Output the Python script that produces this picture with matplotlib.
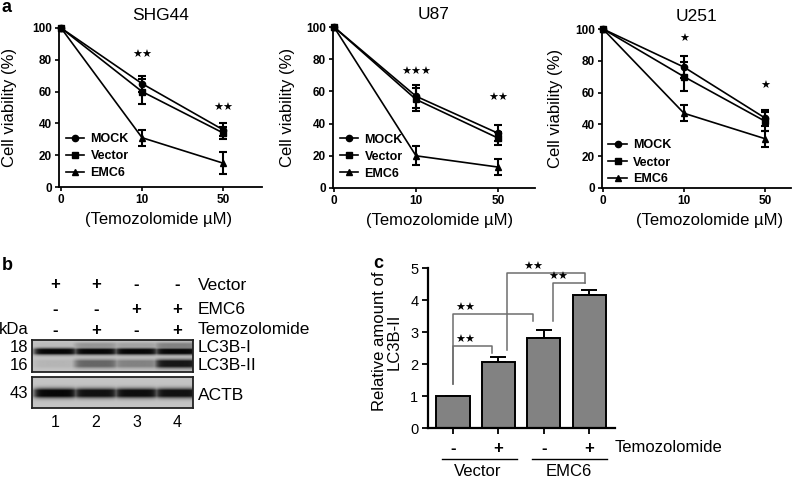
import numpy as np
import matplotlib
matplotlib.use("Agg")
import matplotlib.pyplot as plt

plt.rcParams["font.family"] = ["Liberation Sans", "DejaVu Sans"]

W, H = 792, 478

# ---------------- panel a: cell viability ----------------
doses = ["0", "10", "50"]
series_names = ["MOCK", "Vector", "EMC6"]
series_markers = ["o", "s", "^"]

shg44_mock = [100, 65, 36]
shg44_vector = [100, 60, 34]
shg44_emc6 = [100, 31, 15]
shg44_mock_err = [0, 5, 4]
shg44_vector_err = [0, 8, 4]
shg44_emc6_err = [0, 5, 7]
shg44_stars = [0, 2, 2]
shg44_star_y = [0, 83, 50]

u87_mock = [100, 57, 34]
u87_vector = [100, 55, 31]
u87_emc6 = [100, 20, 13]
u87_mock_err = [0, 7, 5]
u87_vector_err = [0, 7, 4]
u87_emc6_err = [0, 6, 5]
u87_stars = [0, 3, 2]
u87_star_y = [0, 72, 56]

u251_mock = [100, 76, 44]
u251_vector = [100, 70, 42]
u251_emc6 = [100, 47, 31]
u251_mock_err = [0, 7, 5]
u251_vector_err = [0, 9, 6]
u251_emc6_err = [0, 5, 5]
u251_stars = [0, 1, 1]
u251_star_y = [0, 94, 64]

# ---------------- panel b: western blot ----------------
blot_lanes = ["1", "2", "3", "4"]
vector_signs = ["+", "+", "-", "-"]
emc6_signs = ["-", "-", "+", "+"]
tmz_signs = ["-", "+", "-", "+"]
lc3b1_band = [1.0, 1.0, 1.0, 1.0]
lc3b_upper_band = [0.05, 0.25, 0.18, 0.35]
lc3b2_band = [0.08, 0.50, 0.35, 0.92]
actb_band = [1.0, 0.95, 0.97, 0.95]

# ---------------- panel c: LC3B-II quantification ----------------
c_groups = ["Vector", "EMC6"]
c_tmz = ["-", "+", "-", "+"]
lc3_vals = [1.0, 2.05, 2.8, 4.15]
lc3_err = [0.0, 0.17, 0.25, 0.15]
# (left x, right x, top y, left foot y, right foot y, star x)
c_brackets = [
    (0.0, 0.85, 2.56, 1.37, 2.33, 0.27),
    (0.0, 1.76, 3.56, 1.37, 3.34, 0.27),
    (1.20, 2.91, 4.84, 2.44, 4.53, 1.77),
    (2.20, 2.91, 4.53, 3.34, 4.53, 2.32),
]

STAR = "\u2605"


def px_axes(fig, x0, y0, x1, y1):
    return fig.add_axes([x0 / W, 1 - y1 / H, (x1 - x0) / W, (y1 - y0) / H])


def ftext(fig, x, y, s, **kw):
    fig.text(x / W, 1 - y / H, s, **kw)


fig = plt.figure(figsize=(W / 100, H / 100), dpi=100)


def line_panel(box, xlim, title, vals, errs, stars, star_y, leg_y, ylab_x, xlab_x):
    ax = px_axes(fig, *box)
    x = np.arange(len(doses))
    handles = []
    for name, m, v, e in zip(series_names, series_markers, vals, errs):
        (h,) = ax.plot(x, v, marker=m, ms=4.5, color="black", lw=1.2, label=name,
                       clip_on=False, zorder=3)
        ax.errorbar(x[1:], v[1:], yerr=e[1:], fmt="none", ecolor="black",
                    elinewidth=1.5, capsize=3.2, capthick=1.5, zorder=3)
        handles.append(h)
    for xi, n, sy in zip(x, stars, star_y):
        if n:
            ax.text(xi, sy, STAR * n, ha="center", va="center", fontsize=8,
                    family="DejaVu Sans")
    ax.set_xlim(*xlim)
    ax.set_ylim(0, 100)
    ax.set_xticks(x, doses)
    ax.set_yticks(range(0, 101, 20))
    for lab in ax.get_xticklabels() + ax.get_yticklabels():
        lab.set_fontweight("bold")
    ax.tick_params(direction="out", length=3, width=1.2, labelsize=8.5, pad=2)
    for sp in ("top", "right"):
        ax.spines[sp].set_visible(False)
    for sp in ("left", "bottom"):
        ax.spines[sp].set_linewidth(1.3)
    ax.set_title(title, fontsize=12.5, pad=6)
    ax.set_ylabel("Cell viability (%)", fontsize=12)
    ax.yaxis.set_label_coords(ylab_x, 0.5)
    ax.set_xlabel("(Temozolomide \u00b5M)", fontsize=12)
    ax.xaxis.set_label_coords(xlab_x, -0.155)
    leg = ax.legend(handles=handles, loc="lower left", bbox_to_anchor=(0.02, leg_y),
                    frameon=False, fontsize=9, handlelength=1.5, handletextpad=0.5,
                    labelspacing=0.4, borderpad=0.2, borderaxespad=0)
    for t in leg.get_texts():
        t.set_fontweight("bold")
    return ax


line_panel((59, 28, 262, 187), (-0.025, 2.48), "SHG44",
           [shg44_mock, shg44_vector, shg44_emc6],
           [shg44_mock_err, shg44_vector_err, shg44_emc6_err],
           shg44_stars, shg44_star_y, 0.035, -0.205, 0.49)
line_panel((333, 27, 535, 188), (-0.012, 2.45), "U87",
           [u87_mock, u87_vector, u87_emc6],
           [u87_mock_err, u87_vector_err, u87_emc6_err],
           u87_stars, u87_star_y, 0.035, -0.19, 0.53)
line_panel((602, 29, 791, 188), (-0.012, 2.32), "U251",
           [u251_mock, u251_vector, u251_emc6],
           [u251_mock_err, u251_vector_err, u251_emc6_err],
           u251_stars, u251_star_y, 0.0, -0.205, 0.57)

# ---------------- panel b ----------------
lane_x = np.arange(1, len(blot_lanes) + 1)
blot_xlim = (0.43, 4.39)


def blot_image(bands, nx=240, ny=90):
    xs = np.linspace(blot_xlim[0], blot_xlim[1], nx)
    ys = np.linspace(0, 1, ny)
    dark = np.zeros((ny, nx))
    for yc, sig, inten in bands:
        prof_y = np.clip(1.5 * np.exp(-0.5 * ((ys - yc) / sig) ** 2), 0, 1)
        prof_x = np.zeros(nx)
        for xi, a in zip(lane_x, inten):
            prof_x = np.maximum(prof_x, a / (1 + np.exp(-(0.52 - np.abs(xs - xi)) / 0.05)))
        dark = np.maximum(dark, np.outer(prof_y, prof_x))
    return 0.77 - 0.74 * dark


ax_b1 = px_axes(fig, 32, 340, 193, 372)
ax_b2 = px_axes(fig, 32, 377, 193, 408)
img1 = blot_image([(0.79, 0.07, lc3b_upper_band), (0.625, 0.065, lc3b1_band),
                   (0.25, 0.085, lc3b2_band)])
img2 = blot_image([(0.48, 0.10, actb_band)])
for axb, img in ((ax_b1, img1), (ax_b2, img2)):
    axb.imshow(img, cmap="gray", vmin=0, vmax=1, origin="lower", aspect="auto",
               extent=(blot_xlim[0], blot_xlim[1], 0, 1), interpolation="bilinear")
    axb.set_xlim(*blot_xlim)
    axb.set_ylim(0, 1)
    axb.set_xticks([])
    axb.set_yticks([])
    for sp in axb.spines.values():
        sp.set_linewidth(1.3)
        sp.set_color("#222222")

tr = ax_b1.get_xaxis_transform()
for signs, yy in zip([vector_signs, emc6_signs, tmz_signs], [2.72, 1.94, 1.31]):
    for xi, s in zip(lane_x, signs):
        ax_b1.text(xi, yy, s, transform=tr, ha="center", va="center",
                   fontsize=12, fontweight="bold", clip_on=False)
tr2 = ax_b2.get_xaxis_transform()
for xi, s in zip(lane_x, blot_lanes):
    ax_b2.text(xi, -0.48, s, transform=tr2, ha="center", va="center", fontsize=11.5)

ftext(fig, 198, 285, "Vector", va="center", fontsize=12.5)
ftext(fig, 198, 310, "EMC6", va="center", fontsize=12.5)
ftext(fig, 198, 330, "Temozolomide", va="center", fontsize=12.5)
ftext(fig, 14, 330, "kDa", va="center", ha="center", fontsize=12)
ftext(fig, 28, 348, "18", va="center", ha="right", fontsize=12)
ftext(fig, 28, 366, "16", va="center", ha="right", fontsize=12)
ftext(fig, 28, 394, "43", va="center", ha="right", fontsize=12)
ftext(fig, 198, 348, "LC3B-I", va="center", fontsize=12.5)
ftext(fig, 198, 366, "LC3B-II", va="center", fontsize=12.5)
ftext(fig, 198, 395, "ACTB", va="center", fontsize=12.5)

# ---------------- panel c ----------------
ax_c = px_axes(fig, 428, 268, 615, 428)
xb = np.arange(len(lc3_vals))
ax_c.bar(xb, lc3_vals, width=0.73, color="#828282", edgecolor="black", lw=1.4, zorder=2)
ax_c.errorbar(xb, lc3_vals, yerr=[np.zeros(len(lc3_err)), lc3_err], fmt="none",
              ecolor="black", elinewidth=1.4, capsize=6, capthick=1.4, zorder=1)
ax_c.set_xlim(-0.55, 3.57)
ax_c.set_ylim(0, 5)
ax_c.set_yticks(range(0, 6))
ax_c.set_xticks(xb, c_tmz)
for lab in ax_c.get_xticklabels():
    lab.set_fontweight("bold")
    lab.set_fontsize(12)
ax_c.tick_params(axis="x", direction="out", length=4, width=1.3, pad=5)
ax_c.tick_params(axis="y", direction="out", length=4, width=1.3, labelsize=10.5, pad=3)
for sp in ("top", "right"):
    ax_c.spines[sp].set_visible(False)
for sp in ("left", "bottom"):
    ax_c.spines[sp].set_linewidth(1.6)
ax_c.set_ylabel("Relative amount of\nLC3B-II", fontsize=12, linespacing=1.0)
ax_c.yaxis.set_label_coords(-0.14, 0.54)

for xl, xr, yt, yl, yr, sx in c_brackets:
    ax_c.plot([xl, xl, xr, xr], [yl, yt, yt, yr], color="#6e6e6e", lw=1.1,
              clip_on=False, zorder=3)
    ax_c.text(sx, yt + 0.18, STAR * 2, ha="center", va="center", fontsize=8,
              family="DejaVu Sans", clip_on=False)

trc = ax_c.get_xaxis_transform()
ax_c.text(3.57, -0.125, "Temozolomide", transform=trc, ha="left", va="center", fontsize=12)
for g, name in enumerate(c_groups):
    ax_c.plot([2 * g - 0.25, 2 * g + 1.4], [-0.194, -0.194], transform=trc, color="black",
              lw=1.0, clip_on=False)
    ax_c.text(2 * g + 0.55, -0.275, name, transform=trc, ha="center", va="center", fontsize=12)

# panel letters
ftext(fig, 2, 8, "a", fontsize=13, fontweight="bold", va="center")
ftext(fig, 2, 265, "b", fontsize=13, fontweight="bold", va="center")
ftext(fig, 373, 264, "c", fontsize=13, fontweight="bold", va="center")

fig.savefig("out.png", dpi=100)
